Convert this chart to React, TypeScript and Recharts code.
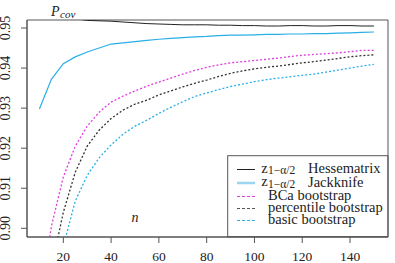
import React from 'react';
import { LineChart, Line, XAxis, YAxis, ReferenceArea, Customized } from 'recharts';

const nValues = [10, 15, 20, 25, 30, 35, 40, 45, 50, 55, 60, 65, 70, 75, 80, 85, 90, 95, 100, 105, 110, 115, 120, 125, 130, 135, 140, 145, 150];
const hesse = [0.9535, 0.9530, 0.9527, 0.9523, 0.9519, 0.9518, 0.9517, 0.9515, 0.9513, 0.9511, 0.9510, 0.9509, 0.9508, 0.9508, 0.9508, 0.9507, 0.9507, 0.9506, 0.9506, 0.9505, 0.9505, 0.9506, 0.9506, 0.9505, 0.9505, 0.9506, 0.9506, 0.9505, 0.9505];
const jack = [0.9298, 0.9372, 0.9411, 0.9428, 0.9440, 0.9450, 0.9460, 0.9463, 0.9466, 0.9469, 0.9472, 0.9474, 0.9476, 0.9478, 0.9479, 0.9481, 0.9482, 0.9482, 0.9483, 0.9484, 0.9484, 0.9485, 0.9485, 0.9486, 0.9486, 0.9487, 0.9488, 0.9489, 0.9490];
const bca = [0.880, 0.9005, 0.9128, 0.9205, 0.9255, 0.9290, 0.9315, 0.9330, 0.9343, 0.9355, 0.9365, 0.9375, 0.9385, 0.9394, 0.9402, 0.9408, 0.9413, 0.9416, 0.9419, 0.9422, 0.9425, 0.9429, 0.9432, 0.9434, 0.9436, 0.9438, 0.9441, 0.9444, 0.9444];
const perc = [0.870, 0.890, 0.9040, 0.9140, 0.9205, 0.9245, 0.9274, 0.9295, 0.9310, 0.9320, 0.9333, 0.9343, 0.9353, 0.9362, 0.9370, 0.9379, 0.9387, 0.9393, 0.9398, 0.9402, 0.9405, 0.9409, 0.9413, 0.9416, 0.9420, 0.9424, 0.9428, 0.9431, 0.9433];
const basic = [0.855, 0.878, 0.8955, 0.9068, 0.9132, 0.9176, 0.9208, 0.9235, 0.9255, 0.9270, 0.9287, 0.9302, 0.9316, 0.9329, 0.9338, 0.9346, 0.9354, 0.9360, 0.9366, 0.9371, 0.9375, 0.9378, 0.9382, 0.9385, 0.9390, 0.9395, 0.9400, 0.9405, 0.9409];

const xTicks = [20, 40, 60, 80, 100, 120, 140];
const yTicks = [0.9, 0.91, 0.92, 0.93, 0.94, 0.95];

const data = nValues.map((n, i) => ({
  n,
  hesse: hesse[i],
  jack: jack[i],
  bca: bca[i],
  perc: perc[i],
  basic: basic[i],
}));

const FONT = "'Liberation Serif', 'Times New Roman', serif";
const TXT: React.CSSProperties = { fontFamily: FONT };
const AXIS = '#555';
const C_BLACK = '#222';
const C_BLUE = '#2aaee6';
const C_MAG = '#e03ce0';
const C_GRAY = '#333';

const XTick = (props: any) => {
  const { x, payload } = props;
  return (
    <text x={x} y={261} textAnchor="middle" style={{ ...TXT, fontSize: 13.5 }} fill="#222">
      {payload.value}
    </text>
  );
};

const YTick = (props: any) => {
  const { y, payload } = props;
  const bx = 10.5;
  return (
    <text x={bx} y={y} transform={`rotate(-90, ${bx}, ${y})`} textAnchor="middle" style={{ ...TXT, fontSize: 14 }} fill="#222">
      {Number(payload.value).toFixed(2)}
    </text>
  );
};

const Decor = () => {
  const lx1 = 237;
  const lx2 = 255;
  const tx = 268;
  const rows = [
    { y: 169.5, color: C_BLACK, w: 1, dash: undefined as any, z: true, label: 'Hessematrix' },
    { y: 183, color: '#9ad6ee', w: 2.5, dash: undefined as any, z: true, label: 'Jackknife' },
    { y: 196.5, color: C_MAG, w: 1, dash: '3 2', z: false, label: 'BCa bootstrap' },
    { y: 208.5, color: '#555', w: 1, dash: '3 2', z: false, label: 'percentile bootstrap' },
    { y: 220.5, color: C_BLUE, w: 1, dash: '3 2', z: false, label: 'basic bootstrap' },
  ];
  return (
    <g fill="#222">
      <text x={51} y={15.5} style={{ ...TXT, fontSize: 14, fontStyle: 'italic' }}>P</text>
      <text x={60} y={18} style={{ ...TXT, fontSize: 11, fontStyle: 'italic' }}>cov</text>
      <text x={135} y={222} textAnchor="middle" style={{ ...TXT, fontSize: 14, fontStyle: 'italic' }}>n</text>
      <rect x={227.7} y={155.7} width={160.3} height={81} fill="#fff" stroke={AXIS} strokeWidth={1} />
      {rows.map((r) => (
        <g key={r.label}>
          <line x1={lx1} x2={lx2} y1={r.y} y2={r.y} stroke={r.color} strokeWidth={r.w} strokeDasharray={r.dash} />
          {r.z ? (
            <>
              <text x={261.3} y={r.y + 3} style={{ ...TXT, fontSize: 14.5 }}>z</text>
              <text x={268} y={r.y + 4.5} style={{ ...TXT, fontSize: 11.5 }}>1−α/2</text>
              <text x={308} y={r.y + 3.5} style={{ ...TXT, fontSize: 14.5 }}>{r.label}</text>
            </>
          ) : (
            <text x={tx} y={r.y + 3.5} style={{ ...TXT, fontSize: 14.5 }}>{r.label}</text>
          )}
        </g>
      ))}
    </g>
  );
};

export default function App() {
  return (
    <div style={{ position: 'absolute', left: 0, top: 0, width: 395, height: 263, background: '#fff' }}>
      <LineChart width={395} height={263} data={data} margin={{ top: 20, right: 7, left: 0, bottom: 0 }}>
        <XAxis
          dataKey="n"
          type="number"
          domain={[4.8, 155.9]}
          ticks={xTicks}
          allowDataOverflow
          height={26}
          tickSize={6}
          stroke={AXIS}
          tick={<XTick />}
          interval={0}
        />
        <YAxis
          type="number"
          domain={[0.89783, 0.952]}
          ticks={yTicks}
          allowDataOverflow
          width={27}
          tickSize={6}
          stroke={AXIS}
          tick={<YTick />}
          interval={0}
        />
        <ReferenceArea x1={4.8} x2={155.9} y1={0.89783} y2={0.952} fill="none" stroke={AXIS} strokeWidth={1} ifOverflow="visible" />
        <Line type="linear" dataKey="hesse" stroke={C_BLACK} strokeWidth={1} dot={false} isAnimationActive={false} />
        <Line type="linear" dataKey="jack" stroke={C_BLUE} strokeWidth={1.2} dot={false} isAnimationActive={false} />
        <Line type="linear" dataKey="bca" stroke={C_MAG} strokeWidth={1.3} strokeDasharray="2 2" dot={false} isAnimationActive={false} />
        <Line type="linear" dataKey="perc" stroke={C_GRAY} strokeWidth={1.3} strokeDasharray="2 2" dot={false} isAnimationActive={false} />
        <Line type="linear" dataKey="basic" stroke={C_BLUE} strokeWidth={1.3} strokeDasharray="2 2" dot={false} isAnimationActive={false} />
        <Customized component={Decor} />
      </LineChart>
    </div>
  );
}
